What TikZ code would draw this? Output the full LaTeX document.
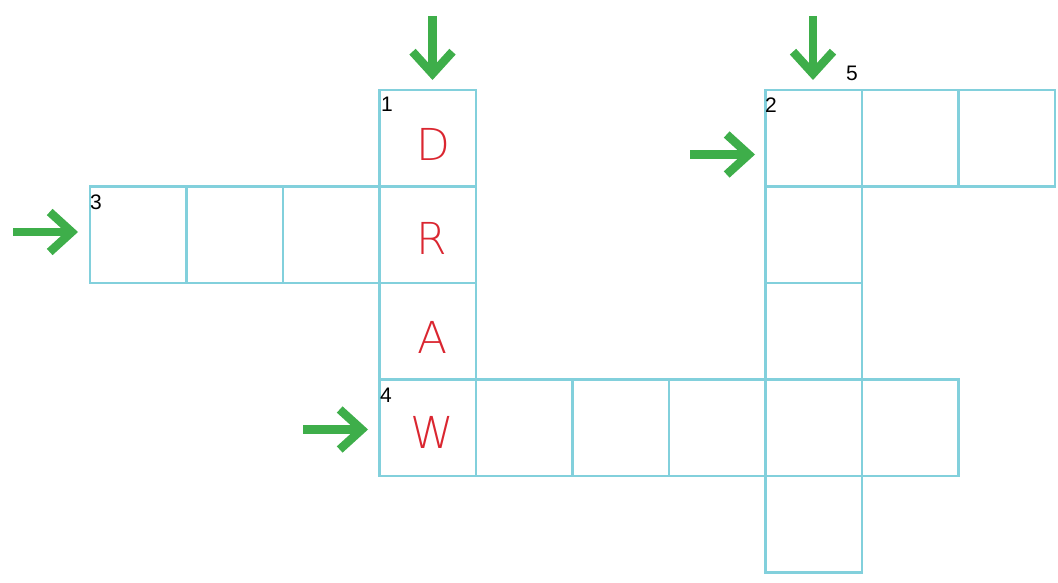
\documentclass[tikz,border=0pt]{standalone}
\usepackage{fontspec}
\setmainfont{Liberation Sans}
\newfontfamily\letterfont{DejaVu Sans}[UprightFont=* ExtraLight]
\usetikzlibrary{arrows.meta}
\definecolor{gridc}{RGB}{130,208,220}
\definecolor{arrowg}{RGB}{62,174,74}
\definecolor{letterr}{RGB}{218,38,48}
\tikzset{
  cellbox/.style={draw=gridc, line width=2.6pt, minimum width=96.5pt, minimum height=96.5pt, inner sep=0pt, outer sep=0pt, anchor=north west},
  numlbl/.style={anchor=base west, inner sep=0pt, font=\fontsize{21}{21}\selectfont},
  letterlbl/.style={text=letterr, inner sep=0pt, font=\letterfont\fontsize{44}{44}\selectfont},
  garrow/.style={draw=arrowg, line width=8.5pt, -{Straight Barb[length=22pt, width=40pt, line width=8.5pt]}}
}
\begin{document}
\begin{tikzpicture}[x=1pt, y=-1pt]
\useasboundingbox (0,0) rectangle (1058,583);
% column 1 (DRAW)
\node[cellbox] (c03) at (379.5,90) {};
\node[cellbox] (c13) at (379.5,186.5) {};
\node[cellbox] (c23) at (379.5,283) {};
\node[cellbox] (c33) at (379.5,379.5) {};
% row 3 across
\node[cellbox] (c10) at (90,186.5) {};
\node[cellbox] (c11) at (186.5,186.5) {};
\node[cellbox] (c12) at (283,186.5) {};
% row 4 across
\node[cellbox] (c34) at (476,379.5) {};
\node[cellbox] (c35) at (572.5,379.5) {};
\node[cellbox] (c36) at (669,379.5) {};
\node[cellbox] (c37) at (765.5,379.5) {};
\node[cellbox] (c38) at (862,379.5) {};
% row 2 across
\node[cellbox] (c07) at (765.5,90) {};
\node[cellbox] (c08) at (862,90) {};
\node[cellbox] (c09) at (958.5,90) {};
% column 2 down
\node[cellbox] (c17) at (765.5,186.5) {};
\node[cellbox] (c27) at (765.5,283) {};
\node[cellbox] (c47) at (765.5,476) {};
% letters
\node[letterlbl] (ld) at (433,144) {D};
\node[letterlbl] (lr) at (432,238) {R};
\node[letterlbl] (la) at (433,337) {A};
\node[letterlbl] (lw) at (432,432) {W};
% numbers
\node[numlbl] (n1) at (381,112) {1};
\node[numlbl] (n2) at (765,113) {2};
\node[numlbl] (n3) at (90,209) {3};
\node[numlbl] (n4) at (380,402) {4};
\node[numlbl] (n5) at (846,81) {5};
% arrows
\coordinate (s1) at (432.5,16);
\coordinate (e1) at (432.5,80);
\coordinate (s2) at (813,16);
\coordinate (e2) at (813,80);
\coordinate (s3) at (13,232);
\coordinate (e3) at (78,232);
\coordinate (s4) at (303,429.5);
\coordinate (e4) at (368,429.5);
\coordinate (s5) at (690,154.5);
\coordinate (e5) at (755,154.5);
\draw[garrow] (s1) -- (e1);
\draw[garrow] (s2) -- (e2);
\draw[garrow] (s3) -- (e3);
\draw[garrow] (s4) -- (e4);
\draw[garrow] (s5) -- (e5);
\end{tikzpicture}
\end{document}
